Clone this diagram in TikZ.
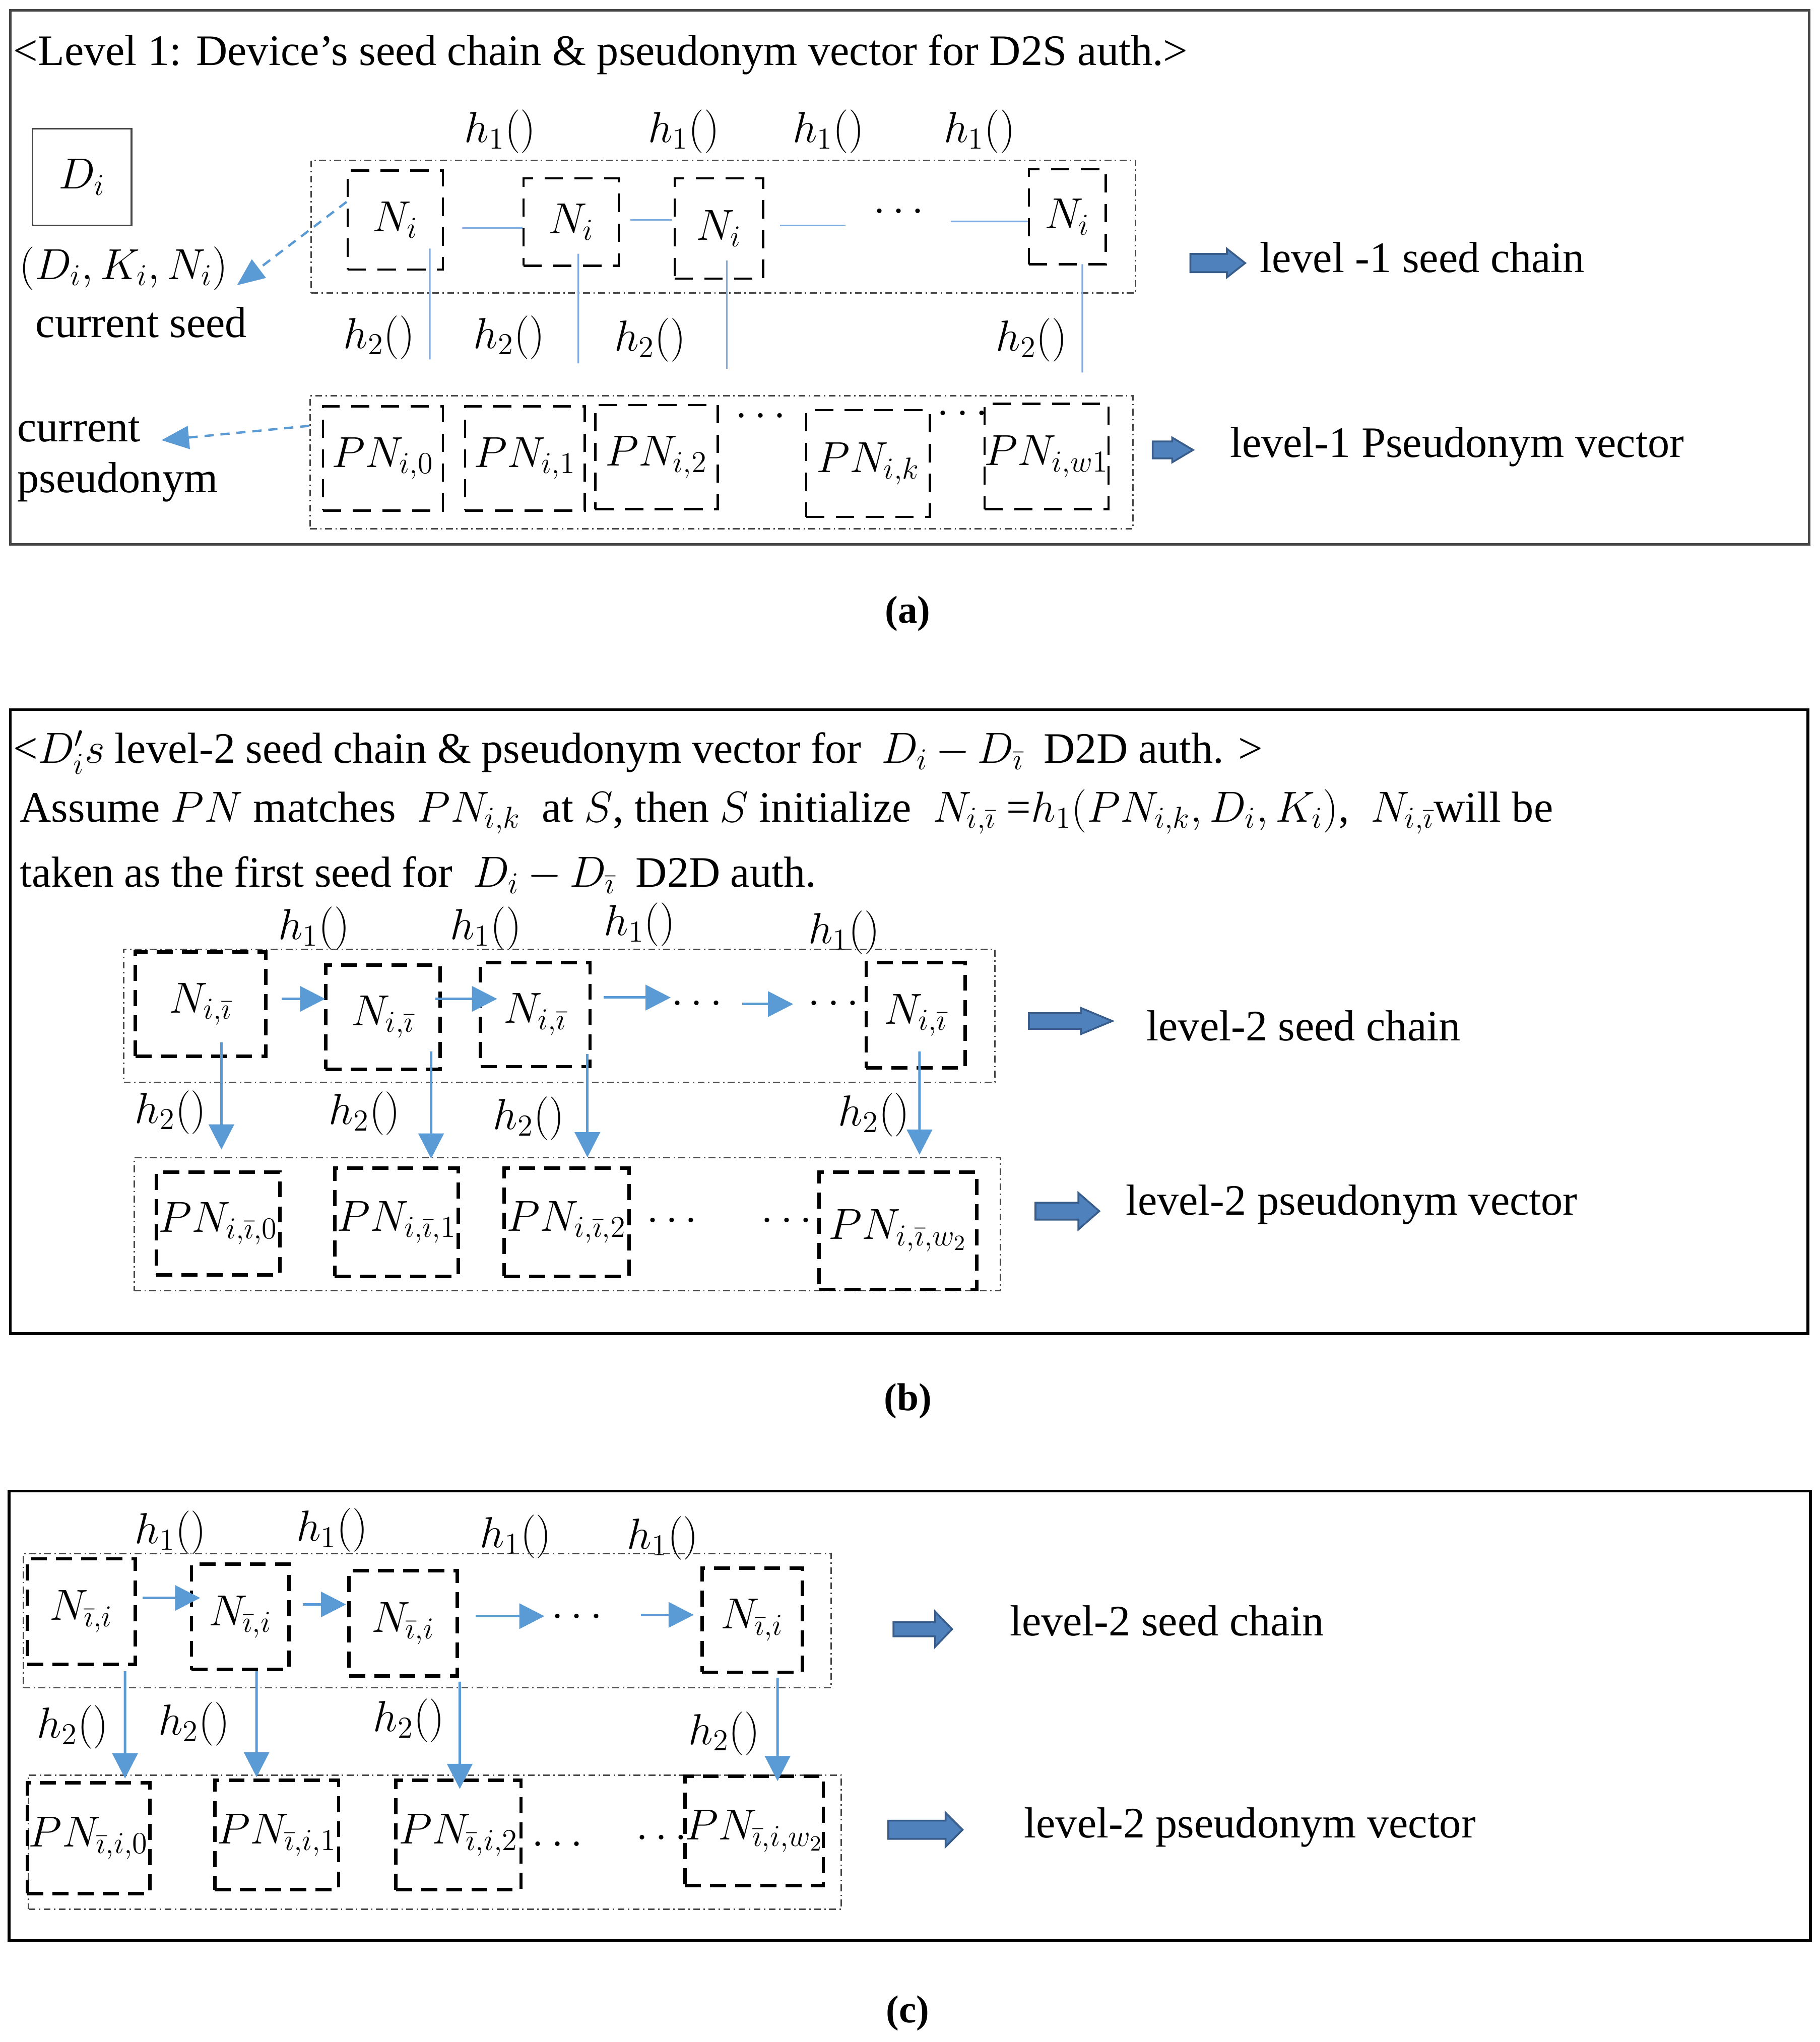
\RequirePackage{fix-cm}
\documentclass[tikz,border=0pt]{standalone}
\usepackage{fontspec}
\setmainfont{Liberation Serif}
\usetikzlibrary{arrows.meta,calc}
\definecolor{arrblue}{RGB}{91,155,213}
\definecolor{lineblue}{RGB}{130,172,222}
\definecolor{blkfill}{RGB}{79,129,189}
\definecolor{blkedge}{RGB}{56,93,138}
\definecolor{ddgray}{RGB}{70,70,70}
\newcommand\bx[7][]{%
  \pgfmathsetmacro\bxcx{(#3+#5)/2}%
  \pgfmathsetmacro\bxcy{(#4+#6)/2}%
  \pgfmathsetmacro\bxw{(#5-#3)*0.02}%
  \pgfmathsetmacro\bxh{(#6-#4)*0.02}%
  \node[#1,minimum width=\bxw cm,minimum height=\bxh cm] (#2) at (\bxcx,\bxcy) {#7};}
\newcommand\blk[6]{%
  \filldraw[fill=blkfill,draw=blkedge,line width=0.8pt] (#1,#4-#5) -- (#3,#4-#5) -- (#3,#4-#6) -- (#2,#4) -- (#3,#4+#6) -- (#3,#4+#5) -- (#1,#4+#5) -- cycle;}
\tikzset{
  dboxa/.style={draw=black, line width=1pt, dash pattern=on 8pt off 5pt, inner sep=0pt},
  dboxb/.style={draw=black, line width=1.5pt, dash pattern=on 7pt off 4pt, inner sep=0pt},
  ddot/.style={draw=ddgray, line width=0.6pt, dash pattern=on 3pt off 1.5pt on 0.6pt off 1.5pt, inner sep=0pt},
  frameA/.style={draw=ddgray, line width=1pt, inner sep=0pt},
  frameB/.style={draw=black, line width=1.2pt, inner sep=0pt},
  bline/.style={draw=lineblue, line width=0.7pt},
  barr/.style={draw=arrblue, line width=1.1pt, -{Triangle[length=11pt,width=11pt]}},
  darr/.style={draw=arrblue, line width=1pt, dash pattern=on 4pt off 3pt, -{Triangle[length=12pt,width=10pt]}},
  lbl/.style={inner sep=0pt},
  txt/.style={inner sep=0pt, anchor=base west},
  captxt/.style={inner sep=0pt, font=\fontsize{17}{20}\selectfont\bfseries},
}
\begin{document}
\begin{tikzpicture}[x=0.02cm,y=-0.02cm,font=\fontsize{19}{23}\selectfont]
\useasboundingbox (0,0) rectangle (1397,1568);
\fill[white] (0,0) rectangle (1397,1568);

% ================= Panel (a) =================
\bx[frameA]{frA}{8}{8}{1389}{418}{}
\node[txt] (tA) at (10,50) {<Level 1: Device’s seed chain \& pseudonym vector for D2S auth.>};
\bx[draw=ddgray,line width=0.7pt,inner sep=0pt]{Dbox}{25}{99}{101}{173}{$D_i$}
\node[lbl] (dkn) at (95,206) {$(D_i, K_i, N_i)$};
\node[txt] (cseed) at (27,259) {current seed};
\node[txt] (cur) at (13,339) {current};
\node[txt] (pseu) at (13,378) {pseudonym};

\bx[ddot]{gA1}{239}{123}{872}{225}{}
\bx[dboxa]{Na1}{267}{131}{340}{207}{$N_i$}
\bx[dboxa]{Na2}{402}{137}{475}{204}{$N_i$}
\bx[dboxa]{Na3}{518}{137}{586}{214}{$N_i$}
\bx[dboxa]{Na4}{790}{130}{849}{203}{$N_i$}
\node[lbl] (dA1) at (690,163) {$\cdots$};

\node[lbl] (h1a1) at (384,101) {$h_1()$};
\node[lbl] (h1a2) at (525,101) {$h_1()$};
\node[lbl] (h1a3) at (636,101) {$h_1()$};
\node[lbl] (h1a4) at (752,101) {$h_1()$};
\node[lbl] (h2a1) at (291,259) {$h_2()$};
\node[lbl] (h2a2) at (391,259) {$h_2()$};
\node[lbl] (h2a3) at (499,261) {$h_2()$};
\node[lbl] (h2a4) at (792,261) {$h_2()$};

\coordinate (L3e) at (649,173);
\coordinate (L4s) at (730,170);
\draw[bline] ($(Na1.east)+(14,6)$) -- ($(Na2.west)+(0,4.5)$);
\draw[bline] ($(Na2.east)+(8,-1.5)$) -- ($(Na3.west)+(-1,-6.5)$);
\draw[bline] ($(Na3.east)+(12,-2.5)$) -- (L3e);
\draw[bline] (L4s) -- ($(Na4.west)+(0,3.5)$);
\coordinate (V1e) at (330,276);
\coordinate (V2e) at (444,279);
\coordinate (V3e) at (558,283);
\coordinate (V4e) at (831,286);
\draw[bline] ($(Na1.south)+(26.5,-17)$) -- (V1e);
\draw[bline] ($(Na2.south)+(5.5,-10)$) -- (V2e);
\draw[bline] ($(Na3.south)+(6,-15)$) -- (V3e);
\draw[bline] ($(Na4.south)+(11.5,-1)$) -- (V4e);

\bx[ddot]{gA2}{238}{304}{870}{406}{}
\bx[dboxa]{PNa0}{248}{312}{340}{392}{$PN_{i,0}$}
\bx[dboxa]{PNa1}{357}{312}{449}{392}{$PN_{i,1}$}
\bx[dboxa]{PNa2}{457}{311}{551}{391}{$PN_{i,2}$}
\bx[dboxa]{PNak}{619}{315}{714}{397}{$PN_{i,k}$}
\bx[dboxa]{PNaw}{757}{310}{850}{391}{$PN_{i,w1}$}
\node[lbl] (dA2) at (584,320) {$\cdots$};
\node[lbl] (dA3) at (739,318) {$\cdots$};

\coordinate (dknTip) at (182,219);
\coordinate (curTip) at (124,338);
\draw[darr] ($(Na1.west)+(0,-14)$) -- (dknTip);
\draw[darr] ($(gA2.west)+(0,-28)$) -- (curTip);

\blk{914}{956}{942}{202}{7}{11}
\node[txt] (lvA1) at (967,209) {level -1 seed chain};
\blk{885}{916}{900}{345.5}{6.5}{9.5}
\node[txt] (lvA2) at (944,351) {level-1 Pseudonym vector};

\node[captxt] (capA) at (697,471) {(a)};

% ================= Panel (b) =================
\bx[frameB]{frB}{8}{545}{1388}{1024}{}
\node[txt] (tB1) at (10,586) {\makebox[546pt][s]{<$D_i's$ level-2 seed chain \& pseudonym vector for \ $D_i - D_{\bar\imath}$ \ D2D auth. >}};
\node[txt] (tB2) at (15,631) {\makebox[670pt][s]{Assume $PN$ matches \ $PN_{i,k}$ \ at $S$, then $S$ initialize \ $N_{i,\bar\imath}$ =$h_1(PN_{i,k}, D_i, K_i)$, \ $N_{i,\bar\imath}$will be}};
\node[txt] (tB3) at (15,681) {\makebox[348pt][s]{taken as the first seed for \ $D_i - D_{\bar\imath}$ \ D2D auth.}};

\node[lbl] (h1b1) at (241,713) {$h_1()$};
\node[lbl] (h1b2) at (373,713) {$h_1()$};
\node[lbl] (h1b3) at (491,710) {$h_1()$};
\node[lbl] (h1b4) at (648,716) {$h_1()$};

\bx[ddot]{gB1}{95}{729}{764}{831}{}
\bx[dboxb]{Nb1}{104}{731}{204}{811}{$N_{i,\bar\imath}$}
\bx[dboxb]{Nb2}{250}{741}{338}{821}{$N_{i,\bar\imath}$}
\bx[dboxb]{Nb3}{369}{739}{453}{819}{$N_{i,\bar\imath}$}
\bx[dboxb]{Nb4}{665}{739}{741}{820}{$N_{i,\bar\imath}$}
\node[lbl] (dB1) at (535,771) {$\cdots$};
\node[lbl] (dB2) at (640,771) {$\cdots$};

\draw[barr] ($(Nb1.east)+(11,-4)$) -- ($(Nb2.west)+(1,-14)$);
\draw[barr] ($(Nb2.east)+(-5,-14)$) -- ($(Nb3.west)+(14,-12)$);
\coordinate (AB3e) at (515,766);
\coordinate (AB4s) at (570,771);
\coordinate (AB4e) at (609,771);
\draw[barr] ($(Nb3.east)+(9,-13)$) -- (AB3e);
\draw[barr] (AB4s) -- (AB4e);

\node[lbl] (h2b1) at (131,854) {$h_2()$};
\node[lbl] (h2b2) at (280,855) {$h_2()$};
\node[lbl] (h2b3) at (406,859) {$h_2()$};
\node[lbl] (h2b4) at (671,856) {$h_2()$};

\bx[ddot]{gB2}{103}{889}{768}{991}{}
\bx[dboxb]{PNb0}{120}{900}{215}{979}{$PN_{i,\bar\imath,0}$}
\bx[dboxb]{PNb1}{257}{897}{352}{980}{$PN_{i,\bar\imath,1}$}
\bx[dboxb]{PNb2}{387}{897}{483}{980}{$PN_{i,\bar\imath,2}$}
\bx[dboxb]{PNbw}{629}{900}{750}{990}{$PN_{i,\bar\imath,w_2}$}
\node[lbl] (dB3) at (516,938) {$\cdots$};
\node[lbl] (dB4) at (604,938) {$\cdots$};

\draw[barr] ($(Nb1.south)+(16,-12)$) -- ($(PNb0.north)+(2.5,-16)$);
\draw[barr] ($(Nb2.south)+(37,-15)$) -- ($(PNb1.north)+(26.5,-6)$);
\draw[barr] ($(Nb3.south)+(40,-11)$) -- ($(PNb2.north)+(16,-7)$);
\draw[barr] ($(Nb4.south)+(3,-14)$) -- ($(PNbw.north)+(16.5,-12)$);

\blk{790}{854}{830}{784}{6}{10}
\node[txt] (lvB1) at (880,799) {level-2 seed chain};
\blk{795}{844}{828}{930}{6.5}{14}
\node[txt] (lvB2) at (864,933) {level-2 pseudonym vector};

\node[captxt] (capB) at (697,1076) {(b)};

% ================= Panel (c) =================
\bx[frameB]{frC}{7}{1145}{1390}{1490}{}
\node[lbl] (h1c1) at (131,1177) {$h_1()$};
\node[lbl] (h1c2) at (255,1175) {$h_1()$};
\node[lbl] (h1c3) at (396,1180) {$h_1()$};
\node[lbl] (h1c4) at (509,1181) {$h_1()$};

\bx[ddot]{gC1}{18}{1193}{638}{1296}{}
\bx[dboxb]{Nc1}{21}{1197}{104}{1278}{$N_{\bar\imath,i}$}
\bx[dboxb]{Nc2}{147}{1201}{222}{1282}{$N_{\bar\imath,i}$}
\bx[dboxb]{Nc3}{268}{1206}{351}{1287}{$N_{\bar\imath,i}$}
\bx[dboxb]{Nc4}{539}{1204}{616}{1284}{$N_{\bar\imath,i}$}
\node[lbl] (dC1) at (443,1242) {$\cdots$};

\draw[barr] ($(Nc1.east)+(4,-10.5)$) -- ($(Nc2.west)+(8,-14.5)$);
\draw[barr] ($(Nc2.east)+(9,-9.5)$) -- ($(Nc3.west)+(-1,-14.5)$);
\coordinate (AC3e) at (418,1241);
\coordinate (AC4s) at (492,1240);
\draw[barr] ($(Nc3.east)+(13,-5.5)$) -- (AC3e);
\draw[barr] (AC4s) -- ($(Nc4.west)+(-5,-4)$);

\node[lbl] (h2c1) at (56,1326) {$h_2()$};
\node[lbl] (h2c2) at (149,1324) {$h_2()$};
\node[lbl] (h2c3) at (314,1321) {$h_2()$};
\node[lbl] (h2c4) at (556,1331) {$h_2()$};

\bx[ddot]{gC2}{22}{1363}{646}{1466}{}
\bx[dboxb]{PNc0}{21}{1369}{115}{1454}{$PN_{\bar\imath,i,0}$}
\bx[dboxb]{PNc1}{165}{1367}{260}{1451}{$PN_{\bar\imath,i,1}$}
\bx[dboxb]{PNc2}{304}{1367}{400}{1451}{$PN_{\bar\imath,i,2}$}
\bx[dboxb]{PNcw}{526}{1364}{632}{1448}{$PN_{\bar\imath,i,w_2}$}
\node[lbl] (dC2) at (428,1417) {$\cdots$};
\node[lbl] (dC3) at (508,1412) {$\cdots$};

\draw[barr] ($(Nc1.south)+(33.5,4)$) -- ($(PNc0.north)+(28,-2)$);
\draw[barr] ($(Nc2.south)+(12.5,0)$) -- ($(PNc1.north)+(-15.5,-1)$);
\draw[barr] ($(Nc3.south)+(43.5,3)$) -- ($(PNc2.north)+(1,8)$);
\draw[barr] ($(Nc4.south)+(19.5,3)$) -- ($(PNcw.north)+(18,5)$);

\blk{686}{731}{718}{1251}{5.5}{13.5}
\node[txt] (lvC1) at (775,1256) {level-2 seed chain};
\blk{682}{739}{726}{1405}{7}{13}
\node[txt] (lvC2) at (786,1411) {level-2 pseudonym vector};

\node[captxt] (capC) at (697,1546) {(c)};
\end{tikzpicture}
\end{document}
